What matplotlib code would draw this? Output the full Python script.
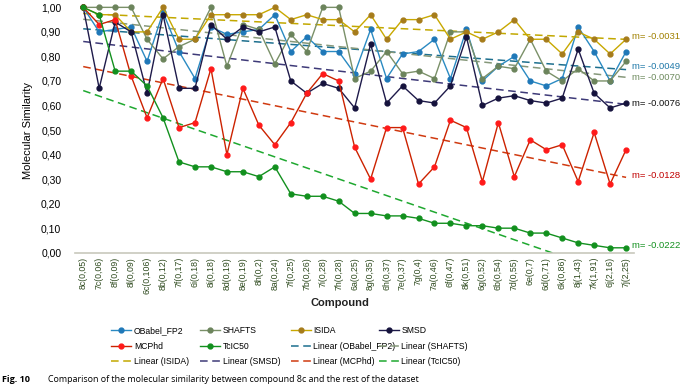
import numpy as np
import matplotlib
matplotlib.use("Agg")
import matplotlib.pyplot as plt
from matplotlib.ticker import FuncFormatter

plt.rcParams["font.family"] = ["Liberation Sans", "DejaVu Sans"]

# compuestos (IC50 entre paréntesis)
compuestos = [
    "8c(0,05)", "7c(0,06)", "8f(0,09)", "8l(0,09)", "6c(0,106)", "8b(0,12)",
    "7f(0,17)", "6i(0,18)", "8i(0,18)", "8d(0,19)", "8e(0,19)", "8h(0,2)",
    "8a(0,24)", "7f(0,25)", "7b(0,26)", "7i(0,28)", "7h(0,28)", "6a(0,25)",
    "8g(0,35)", "6h(0,37)", "7e(0,37)", "7g(0,4)", "7a(0,46)", "6f(0,47)",
    "8k(0,51)", "6g(0,52)", "6b(0,54)", "7d(0,55)", "6e(0,7)", "6d(0,71)",
    "6k(0,86)", "8j(1,43)", "7k(1,91)", "6j(2,16)", "7j(2,25)",
]

obabel_fp2 = [1.00, 0.90, 0.91, 0.92, 0.78, 0.98, 0.82, 0.71, 0.92, 0.89,
              0.90, 0.91, 0.97, 0.82, 0.88, 0.82, 0.82, 0.73, 0.91, 0.71,
              0.81, 0.82, 0.87, 0.71, 0.91, 0.70, 0.76, 0.80, 0.70, 0.68,
              0.71, 0.92, 0.82, 0.70, 0.82]
shafts = [1.00, 1.00, 1.00, 1.00, 0.87, 0.79, 0.84, 0.87, 1.00, 0.76,
          0.93, 0.91, 0.77, 0.89, 0.82, 1.00, 1.00, 0.71, 0.74, 0.82,
          0.73, 0.74, 0.71, 0.90, 0.90, 0.71, 0.76, 0.75, 0.87, 0.74,
          0.70, 0.75, 0.70, 0.70, 0.78]
isida = [1.00, 0.97, 0.97, 0.90, 0.90, 1.00, 0.87, 0.87, 0.97, 0.97,
         0.97, 0.97, 1.00, 0.95, 0.97, 0.95, 0.95, 0.90, 0.97, 0.87,
         0.95, 0.95, 0.97, 0.87, 0.90, 0.87, 0.90, 0.95, 0.87, 0.87,
         0.81, 0.90, 0.87, 0.81, 0.87]
smsd = [1.00, 0.67, 0.94, 0.90, 0.65, 0.97, 0.67, 0.67, 0.93, 0.87,
        0.92, 0.90, 0.92, 0.70, 0.65, 0.69, 0.67, 0.59, 0.85, 0.61,
        0.68, 0.62, 0.61, 0.68, 0.88, 0.60, 0.63, 0.64, 0.62, 0.61,
        0.63, 0.83, 0.65, 0.59, 0.61]
mcphd = [1.00, 0.93, 0.95, 0.72, 0.55, 0.71, 0.51, 0.53, 0.75, 0.40,
         0.67, 0.52, 0.44, 0.53, 0.65, 0.73, 0.70, 0.43, 0.30, 0.51,
         0.51, 0.28, 0.35, 0.54, 0.51, 0.29, 0.53, 0.31, 0.46, 0.42,
         0.44, 0.29, 0.49, 0.28, 0.42]
tcic50 = [1.00, 0.97, 0.74, 0.74, 0.68, 0.55, 0.37, 0.35, 0.35, 0.33,
          0.33, 0.31, 0.35, 0.24, 0.23, 0.23, 0.21, 0.16, 0.16, 0.15,
          0.15, 0.14, 0.12, 0.12, 0.11, 0.11, 0.10, 0.10, 0.08, 0.08,
          0.06, 0.04, 0.03, 0.02, 0.02]

nombres = ["OBabel_FP2", "SHAFTS", "ISIDA", "SMSD", "MCPhd", "TcIC50"]
series = [obabel_fp2, shafts, isida, smsd, mcphd, tcic50]
pendientes = ["m= -0.0049", "m= -0.0070", "m= -0.0031", "m= -0.0076",
              "m= -0.0128", "m= -0.0222"]

# estilos: (linea, marcador, tendencia, etiqueta)
estilos = [
    ("#2A8AC2", "#1F78B8", "#1D6F8E", "#1F78A8"),
    ("#7A9068", "#6C845C", "#86987A", "#6E8B5E"),
    ("#C8A800", "#A67C1B", "#C2A800", "#A08000"),
    ("#1E1A4A", "#15123C", "#3E3A78", "#111111"),
    ("#CC2200", "#FF1A1A", "#D03A10", "#C00000"),
    ("#12901E", "#12901E", "#1FA830", "#12901E"),
]
y_etiquetas = [0.76, 0.715, 0.88, 0.61, 0.315, 0.03]

fig = plt.figure(figsize=(6.84, 3.87), dpi=100)
ax = fig.add_axes([0.110, 0.347, 0.817, 0.634])

x = np.arange(len(compuestos))
handles_datos = []
handles_tend = []
for nombre, valores, (c_lin, c_mar, c_ten, c_et) in zip(nombres, series, estilos):
    h, = ax.plot(x, valores, color=c_lin, lw=1.0, marker="o", ms=3.5,
                 markerfacecolor=c_mar, markeredgecolor=c_mar,
                 label=nombre, clip_on=False, zorder=3)
    handles_datos.append(h)

for nombre, valores, (c_lin, c_mar, c_ten, c_et) in zip(nombres, series, estilos):
    m, b = np.polyfit(x, valores, 1)
    t, = ax.plot(x, m * x + b, color=c_ten, lw=1.1, ls=(0, (5, 3)),
                 label=f"Linear ({nombre})", zorder=2)
    handles_tend.append(t)

for texto, y_et, est in zip(pendientes, y_etiquetas, estilos):
    ax.text(34.4, y_et, texto, color=est[3], fontsize=6.8, va="center",
            ha="left", clip_on=False)

ax.set_xlim(-0.5, len(compuestos) - 0.5)
ax.set_ylim(0, 1)
ax.set_yticks(np.arange(0, 1.01, 0.1))
ax.yaxis.set_major_formatter(FuncFormatter(lambda v, p: f"{v:.2f}".replace(".", ",")))
ax.set_xticks(x)
ax.set_xticklabels(compuestos, rotation=90, fontsize=6.3, color="#2E4A1E")
ax.tick_params(axis="y", labelsize=7.5, length=0, pad=10)
ax.tick_params(axis="x", length=0, pad=3)
for lado in ["top", "right", "left"]:
    ax.spines[lado].set_visible(False)
ax.spines["bottom"].set_color("#C8C8BC")
ax.spines["bottom"].set_linewidth(1.2)

ax.set_ylabel("Molecular Similarity", fontsize=8, labelpad=6)
fig.text(0.497, 0.218, "Compound", fontsize=8, fontweight="bold",
         ha="center", va="center", color="#222222")

# leyenda en 4 columnas de ancho fijo (estilo Excel)
todos = handles_datos + handles_tend
x_columnas = [0.163, 0.293, 0.425, 0.554]
for j, xc in enumerate(x_columnas):
    hs = [todos[j], todos[j + 4], todos[j + 8]]
    leg = fig.legend(hs, [h.get_label() for h in hs], loc="center left",
                     bbox_to_anchor=(xc, 0.105), fontsize=6.2, frameon=False,
                     handlelength=2.3, labelspacing=0.75, handletextpad=0.3,
                     borderpad=0, borderaxespad=0)

fig.text(0.003, 0.008, "Fig. 10", fontsize=6.5, fontweight="bold",
         ha="left", va="bottom", family="Open Sans")
fig.text(0.070, 0.008, "Comparison of the molecular similarity between compound 8c and the rest of the dataset",
         fontsize=6.4, ha="left", va="bottom", family="Open Sans")

fig.savefig("out.png", dpi=100)
